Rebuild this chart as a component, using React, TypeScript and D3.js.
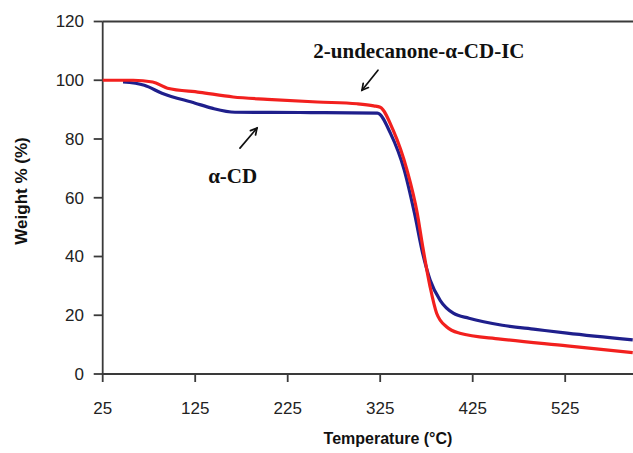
import { useMemo } from "react";
import * as d3 from "d3";

// TGA curves: temperature (°C) vs weight (%)
const icTemp = [25, 58, 79, 95, 130, 166, 203, 257, 300, 318, 325, 339, 354, 365, 371, 379, 386, 397, 411, 455, 527, 598];
const icWeight = [100, 100, 99.4, 97.3, 95.9, 94.3, 93.5, 92.6, 92, 91.3, 90.8, 83, 69.4, 54.8, 43.3, 29.6, 20.7, 16, 13.9, 11.9, 9.6, 7.3];

const cdTemp = [47, 70, 89, 125, 143, 168, 250, 322, 336, 351, 362, 371, 379, 390, 404, 421, 457, 493, 527, 598];
const cdWeight = [99.4, 98.3, 95.6, 92.2, 90.5, 89.1, 89, 88.8, 82, 69.4, 54.8, 41, 32, 25, 20.7, 19, 16.6, 15.2, 13.9, 11.6];

const xTicks = [25, 125, 225, 325, 425, 525];
const yTicks = [0, 20, 40, 60, 80, 100, 120];

const W = 633;
const H = 453;
const LEFT = 102.7;
const TOP = 21.5;
const BOTTOM = 374;

const AXIS = "#3a3a3a";
const SANS = "'Liberation Sans', Arial, sans-serif";
const SERIF = "'Liberation Serif', 'Times New Roman', serif";

export default function App() {
  const x = useMemo(() => d3.scaleLinear().domain([25, 600]).range([LEFT, LEFT + 575 * 0.925]), []);
  const y = useMemo(() => d3.scaleLinear().domain([0, 120]).range([BOTTOM, TOP]), []);

  const line = d3
    .line<[number, number]>()
    .x((d) => x(d[0]))
    .y((d) => y(d[1]))
    .curve(d3.curveMonotoneX);

  const icPath = line(icTemp.map((t, i) => [t, icWeight[i]]));
  const cdPath = line(cdTemp.map((t, i) => [t, cdWeight[i]]));

  // annotation arrows in data units
  const arrowCD = { from: [173.4, 76.9], to: [191.8, 83.7] };
  const arrowIC = { from: [322.6, 103.4], to: [305.3, 96.6] };

  const arrow = (a: { from: number[]; to: number[] }) => {
    const x1 = x(a.from[0]), y1 = y(a.from[1]);
    const x2 = x(a.to[0]), y2 = y(a.to[1]);
    const ang = Math.atan2(y2 - y1, x2 - x1);
    const len = 7;
    const h1 = [x2 - len * Math.cos(ang - 0.5), y2 - len * Math.sin(ang - 0.5)];
    const h2 = [x2 - len * Math.cos(ang + 0.5), y2 - len * Math.sin(ang + 0.5)];
    return (
      <g stroke="#111" strokeWidth={1.7} fill="none" strokeLinecap="round">
        <line x1={x1} y1={y1} x2={x2} y2={y2} />
        <polyline points={`${h1[0]},${h1[1]} ${x2},${y2} ${h2[0]},${h2[1]}`} />
      </g>
    );
  };

  return (
    <div style={{ position: "fixed", left: 0, top: 0, width: W, height: H, background: "#fff" }}>
      <svg width={W} height={H} style={{ display: "block" }}>
        <rect width={W} height={H} fill="#fff" />

        {/* frame: top border, y axis, x axis */}
        <line x1={LEFT} x2={W} y1={TOP} y2={TOP} stroke={AXIS} strokeWidth={1.8} />
        <line x1={LEFT} x2={LEFT} y1={TOP} y2={BOTTOM} stroke={AXIS} strokeWidth={1.8} />
        <line x1={LEFT} x2={W} y1={BOTTOM} y2={BOTTOM} stroke={AXIS} strokeWidth={1.8} />

        {yTicks.map((t) => (
          <g key={t}>
            <line x1={LEFT - 9} x2={LEFT} y1={y(t)} y2={y(t)} stroke={AXIS} strokeWidth={1.8} />
            <text x={84} y={y(t)} dy="0.35em" textAnchor="end" fontFamily={SANS} fontSize={17} fill="#222">
              {t}
            </text>
          </g>
        ))}

        {xTicks.map((t) => (
          <g key={t}>
            <line x1={x(t)} x2={x(t)} y1={BOTTOM} y2={BOTTOM + 8} stroke={AXIS} strokeWidth={1.8} />
            <text x={x(t)} y={BOTTOM + 34} dy="0.35em" textAnchor="middle" fontFamily={SANS} fontSize={17} fill="#222">
              {t}
            </text>
          </g>
        ))}

        <path d={cdPath ?? ""} fill="none" stroke="#1f1f8c" strokeWidth={3.2} />
        <path d={icPath ?? ""} fill="none" stroke="#f2201e" strokeWidth={3.2} />

        {arrow(arrowCD)}
        {arrow(arrowIC)}

        <text x={x(252.7)} y={y(107.5)} fontFamily={SERIF} fontWeight="bold" fontSize={21} fill="#111">
          2-undecanone-α-CD-IC
        </text>
        <text x={x(139)} y={y(65)} fontFamily={SERIF} fontWeight="bold" fontSize={21} fill="#111">
          α-CD
        </text>

        <text x={388} y={444} textAnchor="middle" fontFamily={SANS} fontWeight="bold" fontSize={16} fill="#111">
          Temperature (°C)
        </text>
        <text
          transform="translate(27,191) rotate(-90)"
          textAnchor="middle"
          fontFamily={SANS}
          fontWeight="bold"
          fontSize={17}
          fill="#111"
        >
          Weight % (%)
        </text>
      </svg>
    </div>
  );
}
